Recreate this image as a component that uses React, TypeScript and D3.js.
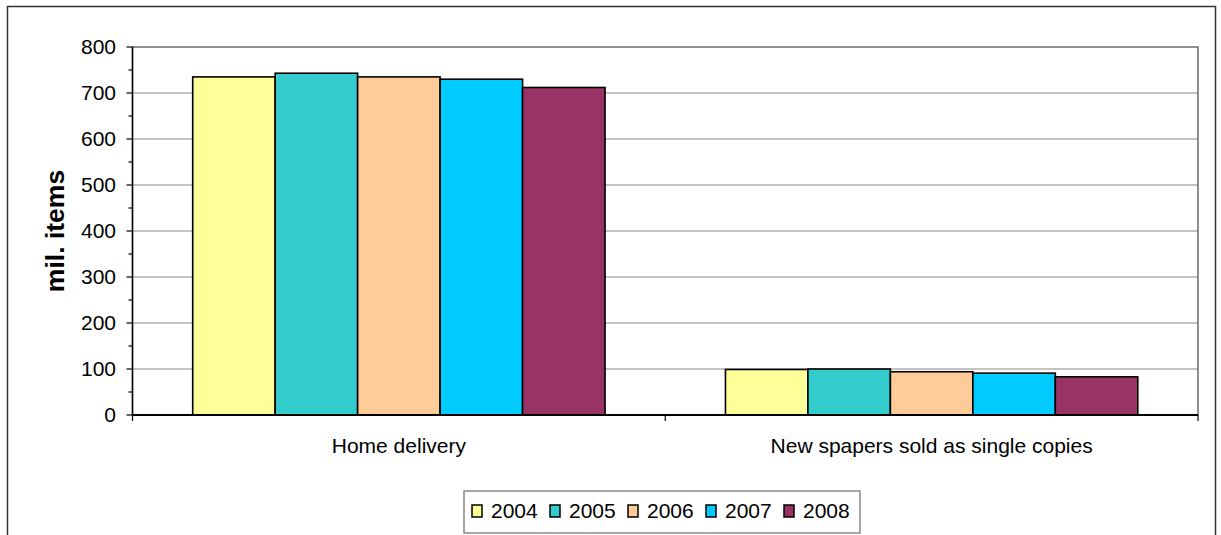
import React from "react";
import * as d3 from "d3";

// Newspaper distribution, million items
const categories = ["Home delivery", "New spapers sold as single copies"];
const years = ["2004", "2005", "2006", "2007", "2008"];
const values2004 = [735, 99];
const values2005 = [743, 100];
const values2006 = [735, 94];
const values2007 = [730, 91];
const values2008 = [712, 83];
const yTicks = [0, 100, 200, 300, 400, 500, 600, 700, 800];
const yMinorTicks = [50, 150, 250, 350, 450, 550, 650, 750];

const seriesValues = [values2004, values2005, values2006, values2007, values2008];
const colors = ["#FFFF99", "#33CCCC", "#FFCC99", "#00CCFF", "#993366"];

const W = 1221;
const H = 535;
const plot = { left: 132.5, right: 1198, top: 47, bottom: 415 };
const FONT = "'Liberation Sans', Arial, sans-serif";

export default function App() {
  const x = d3.scaleBand<string>().domain(categories).range([plot.left, plot.right]).padding(0);
  const xInner = d3
    .scaleBand<string>()
    .domain(years)
    .range([0, x.bandwidth()])
    .paddingInner(0)
    .paddingOuter(0.73);
  const y = d3.scaleLinear().domain([0, 800]).range([plot.bottom, plot.top]);

  const legendX = 464;
  const legendY = 491;
  const legendItemStep = 78;

  return (
    <div style={{ position: "absolute", left: 0, top: 0 }}>
      <svg width={W} height={H} style={{ display: "block", background: "#fff" }} fontFamily={FONT}>
        {/* chart frame */}
        <rect x={7.5} y={6.5} width={1208} height={H + 10} fill="#fff" stroke="#333" strokeWidth={1.5} />

        {/* gridlines */}
        {yTicks
          .filter((t) => t > 0 && t < 800)
          .map((t) => (
            <line key={t} x1={plot.left} x2={plot.right} y1={y(t)} y2={y(t)} stroke="#888" strokeWidth={1.2} />
          ))}
        {/* plot area border */}
        <rect
          x={plot.left}
          y={plot.top}
          width={plot.right - plot.left}
          height={plot.bottom - plot.top}
          fill="none"
          stroke="#555"
          strokeWidth={1.3}
        />

        {/* bars */}
        {years.map((yr, si) =>
          categories.map((cat, ci) => {
            const v = seriesValues[si][ci];
            const bx = (x(cat) ?? 0) + (xInner(yr) ?? 0);
            return (
              <rect
                key={yr + cat}
                x={bx}
                y={y(v)}
                width={xInner.bandwidth()}
                height={y(0) - y(v)}
                fill={colors[si]}
                stroke="#000"
                strokeWidth={1.6}
              />
            );
          })
        )}

        {/* y axis */}
        <line x1={plot.left} x2={plot.left} y1={plot.top} y2={plot.bottom} stroke="#000" strokeWidth={1.5} />
        {yTicks.map((t) => (
          <g key={t}>
            <line x1={plot.left - 6} x2={plot.left} y1={y(t)} y2={y(t)} stroke="#000" strokeWidth={1.2} />
            <text x={116} y={y(t)} dy="0.35em" textAnchor="end" fontSize={21} fill="#000">
              {t}
            </text>
          </g>
        ))}
        {yMinorTicks.map((t) => (
          <line key={t} x1={plot.left - 4} x2={plot.left} y1={y(t)} y2={y(t)} stroke="#000" strokeWidth={1.2} />
        ))}

        {/* x axis */}
        <line x1={plot.left} x2={plot.right} y1={plot.bottom} y2={plot.bottom} stroke="#000" strokeWidth={1.8} />
        {[plot.left, plot.left + x.bandwidth(), plot.right].map((px, i) => (
          <line key={i} x1={px} x2={px} y1={plot.bottom} y2={plot.bottom + 6} stroke="#000" strokeWidth={1.2} />
        ))}
        {categories.map((c) => (
          <text
            key={c}
            x={(x(c) ?? 0) + x.bandwidth() / 2}
            y={453}
            textAnchor="middle"
            fontSize={21}
            fill="#000"
          >
            {c}
          </text>
        ))}

        {/* y axis title */}
        <text
          transform={`translate(64, ${(plot.top + plot.bottom) / 2}) rotate(-90)`}
          textAnchor="middle"
          fontSize={26.5}
          fontWeight="bold"
          fill="#000"
        >
          mil. items
        </text>

        {/* legend */}
        <rect x={legendX} y={legendY} width={396} height={42} fill="#fff" stroke="#777" strokeWidth={1.3} />
        {years.map((yr, i) => (
          <g key={yr} transform={`translate(${472 + i * legendItemStep}, 0)`}>
            <rect x={0} y={505} width={10} height={12} fill={colors[i]} stroke="#000" strokeWidth={1.5} />
            <text x={19} y={518} fontSize={21} fill="#000">
              {yr}
            </text>
          </g>
        ))}
      </svg>
    </div>
  );
}
